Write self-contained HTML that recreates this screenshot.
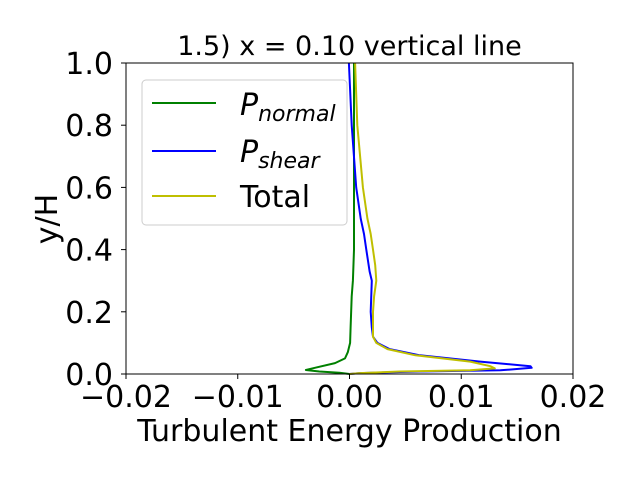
<!DOCTYPE html>
<html><head><meta charset="utf-8"><style>
body{margin:0;background:#fff}
svg{font-family:"DejaVu Sans","Liberation Sans",sans-serif}
</style></head><body>
<svg id="chart" width="640" height="480" viewBox="0 0 640 480">
<text x="349.5" y="55" style="font-size:27px" text-anchor="middle">1.5) x = 0.10 vertical line</text>
<g id="series"></g>
<rect x="126" y="63" width="447" height="311" fill="none" stroke="#000" stroke-width="1"/>
<g id="xticks"></g>
<g id="yticks"></g>
<text x="349.5" y="441" style="font-size:30px" text-anchor="middle">Turbulent Energy Production</text>
<text transform="translate(57,219) rotate(-90)" style="font-size:30px" text-anchor="middle">y/H</text>
<g>
<rect x="142" y="80" width="205" height="145" rx="4" fill="#fff" fill-opacity="0.8" stroke="#ccc"/>
<line x1="152" y1="103" x2="216" y2="103" stroke="green" stroke-width="2"/>
<text x="240" y="115" style="font-size:30px;font-style:italic">P<tspan style="font-size:22px" dy="6">normal</tspan></text>
<line x1="152" y1="151" x2="216" y2="151" stroke="blue" stroke-width="2"/>
<text x="240" y="162" style="font-size:30px;font-style:italic">P<tspan style="font-size:22px" dy="6">shear</tspan></text>
<line x1="152" y1="196" x2="216" y2="196" stroke="#bfbf00" stroke-width="2"/>
<text x="240" y="207" style="font-size:30px">Total</text>
</g>
</svg>
<script>
const xTicks=[-0.02,-0.01,0.00,0.01,0.02];
const xTickLabels=["\u22120.02","\u22120.01","0.00","0.01","0.02"];
const yTicks=[0,0.2,0.4,0.6,0.8,1.0];
const yTickLabels=["0.0","0.2","0.4","0.6","0.8","1.0"];
const normalY=[1,0.8,0.6,0.4,0.3,0.25,0.15,0.1,0.07,0.05,0.035,0.02,0.013,0.008,0.004,0];
const normalX=[0.0004,0.0004,0.0004,0.0004,0.0003,0.0002,0.0001,0.00005,-0.00015,-0.0004,-0.0013,-0.0031,-0.0039,-0.0027,-0.0009,0];
const shearY=[1,0.8,0.6,0.5,0.45,0.4,0.33,0.3,0.2,0.15,0.12,0.1,0.08,0.06,0.04,0.025,0.02,0.012,0.008,0.003,0];
const shearX=[-0.00005,0.0002,0.0006,0.001,0.0013,0.0015,0.0018,0.002,0.0019,0.002,0.0021,0.0025,0.0036,0.0063,0.0117,0.0162,0.0163,0.0135,0.0063,0.0009,0];
const totalY=[1,0.8,0.6,0.5,0.45,0.4,0.35,0.3,0.25,0.2,0.12,0.1,0.08,0.06,0.04,0.025,0.018,0.012,0.008,0.003,0];
const totalX=[0.0005,0.0007,0.0012,0.0016,0.0019,0.0021,0.0023,0.0024,0.0022,0.0021,0.0021,0.0024,0.0034,0.0059,0.0108,0.0126,0.013,0.0108,0.0045,0.0009,0];
const NS="http://www.w3.org/2000/svg";
const sx=v=>126+(v+0.02)/0.04*447;
const sy=v=>374-v*311;
function mk(t,a,p){const e=document.createElementNS(NS,t);for(const k in a)e.setAttribute(k,a[k]);p.appendChild(e);return e;}
const xg=document.getElementById('xticks');
xTicks.forEach((v,i)=>{
 const l=mk('line',{x1:sx(v),x2:sx(v),y1:374,y2:379,stroke:'#000'},xg);
 
 
 const t=mk('text',{x:sx(v),y:407,style:'font-size:30px','text-anchor':'middle'},xg);
 t.textContent=xTickLabels[i];
 
 
});
const yg=document.getElementById('yticks');
yTicks.forEach((v,i)=>{
 const l=mk('line',{x1:121,x2:126,y1:sy(v),y2:sy(v),stroke:'#000'},yg);
 
 
 const t=mk('text',{x:113,y:sy(v)+11,style:'font-size:30px','text-anchor':'end'},yg);
 t.textContent=yTickLabels[i];
 
 
});
const sg=document.getElementById('series');
function line(xs,ys,c,name){
 const d=xs.map((x,i)=>(i?'L':'M')+sx(x).toFixed(1)+','+sy(ys[i]).toFixed(1)).join('');
 const p=mk('path',{d:d,fill:'none',stroke:c,'stroke-width':2,'stroke-linejoin':'round'},sg);
 
 
}
line(normalX,normalY,'green','p-normal-line');
line(shearX,shearY,'blue','p-shear-line');
line(totalX,totalY,'#bfbf00','total-line');
</script>
</body></html>
